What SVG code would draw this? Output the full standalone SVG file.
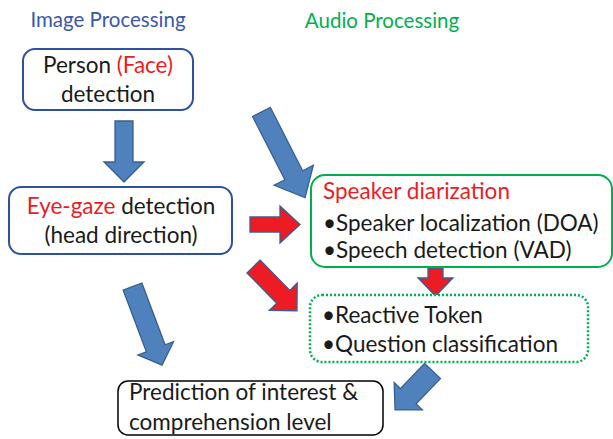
<svg xmlns="http://www.w3.org/2000/svg" width="613" height="439" viewBox="0 0 613 439">
<style>
text{font-family:Lato,"Open Sans","Liberation Sans",sans-serif;fill:#1a1a1a}
.t{font-size:20.5px}
.b{font-size:22.5px}
.red{fill:#ED1C24}
.box{fill:#fff;stroke-width:2}
.blue{fill:#4F81BD;stroke:#3A5F8F;stroke-width:1.3}
.redA{fill:#ED1C24;stroke:#3A5F8F;stroke-width:1.3}
</style>
<rect width="613" height="439" fill="#fff"/>
<text class="t" x="108" y="27" text-anchor="middle" style="fill:#3C58A8">Image Processing</text>
<text class="t" x="382" y="28" text-anchor="middle" style="fill:#00B050">Audio Processing</text>
<g id="connectors">
<path class="blue" transform="translate(124,121) rotate(90)" d="M0,-9 L41,-9 L41,-20 L61,0 L41,20 L41,9 L0,9 Z"/>
<path class="blue" transform="translate(261.5,112) rotate(63)" d="M0,-10 L71,-10 L71,-22 L96,0 L71,22 L71,10 L0,10 Z"/>
<path class="redA" transform="translate(250,224.5)" d="M0,-7.5 L30,-7.5 L30,-18.5 L50,0 L30,18.5 L30,7.5 L0,7.5 Z"/>
<path class="redA" transform="translate(253.5,266.5) rotate(45.5)" d="M0,-9.2 L42.5,-9.2 L42.5,-19.5 L62,0 L42.5,19.5 L42.5,9.2 L0,9.2 Z"/>
<path class="redA" transform="translate(435.5,268) rotate(90)" d="M0,-7.5 L10,-7.5 L10,-17.5 L28,0 L10,17.5 L10,7.5 L0,7.5 Z"/>
<path class="blue" transform="translate(132.5,286.5) rotate(69.4)" d="M0,-10 L66,-10 L66,-19 L84,0 L66,19 L66,10 L0,10 Z"/>
<path class="blue" transform="translate(432.5,371) rotate(133.9)" d="M0,-11 L35,-11 L35,-19.5 L54,0 L35,19.5 L35,11 L0,11 Z"/>
</g>
<g id="person">
<rect class="box" x="23" y="49" width="170" height="61" rx="12" stroke="#2F52A0"/>
<text class="b" x="108" y="73" text-anchor="middle">Person <tspan class="red">(Face)</tspan></text>
<text class="b" x="108" y="102" text-anchor="middle">detection</text>
</g>
<g id="eyegaze">
<rect class="box" x="9" y="187" width="223" height="67" rx="12" stroke="#2F52A0"/>
<text class="b" x="121" y="214" text-anchor="middle"><tspan class="red">Eye-gaze</tspan> detection</text>
<text class="b" x="121" y="243" text-anchor="middle">(head direction)</text>
</g>
<g id="speaker">
<rect class="box" x="311" y="175" width="301" height="92" rx="14" stroke="#00B050"/>
<text class="b red" x="323" y="199">Speaker diarization</text>
<text class="b" x="323" y="231">•Speaker localization (DOA)</text>
<text class="b" x="323" y="258">•Speech detection (VAD)</text>
</g>
<g id="reactive">
<rect x="310" y="295" width="278" height="67" rx="12" fill="#fff" stroke="#00B050" stroke-width="2.5" stroke-dasharray="2,2"/>
<text class="b" x="322" y="323">•Reactive Token</text>
<text class="b" x="322" y="352">•Question classification</text>
</g>
<g id="prediction">
<rect x="118" y="381" width="265" height="54" rx="10" fill="#fff" stroke="#000" stroke-width="1.5"/>
<text class="b" x="129" y="400">Prediction of interest &amp;</text>
<text class="b" x="129" y="430">comprehension level</text>
</g>
</svg>
